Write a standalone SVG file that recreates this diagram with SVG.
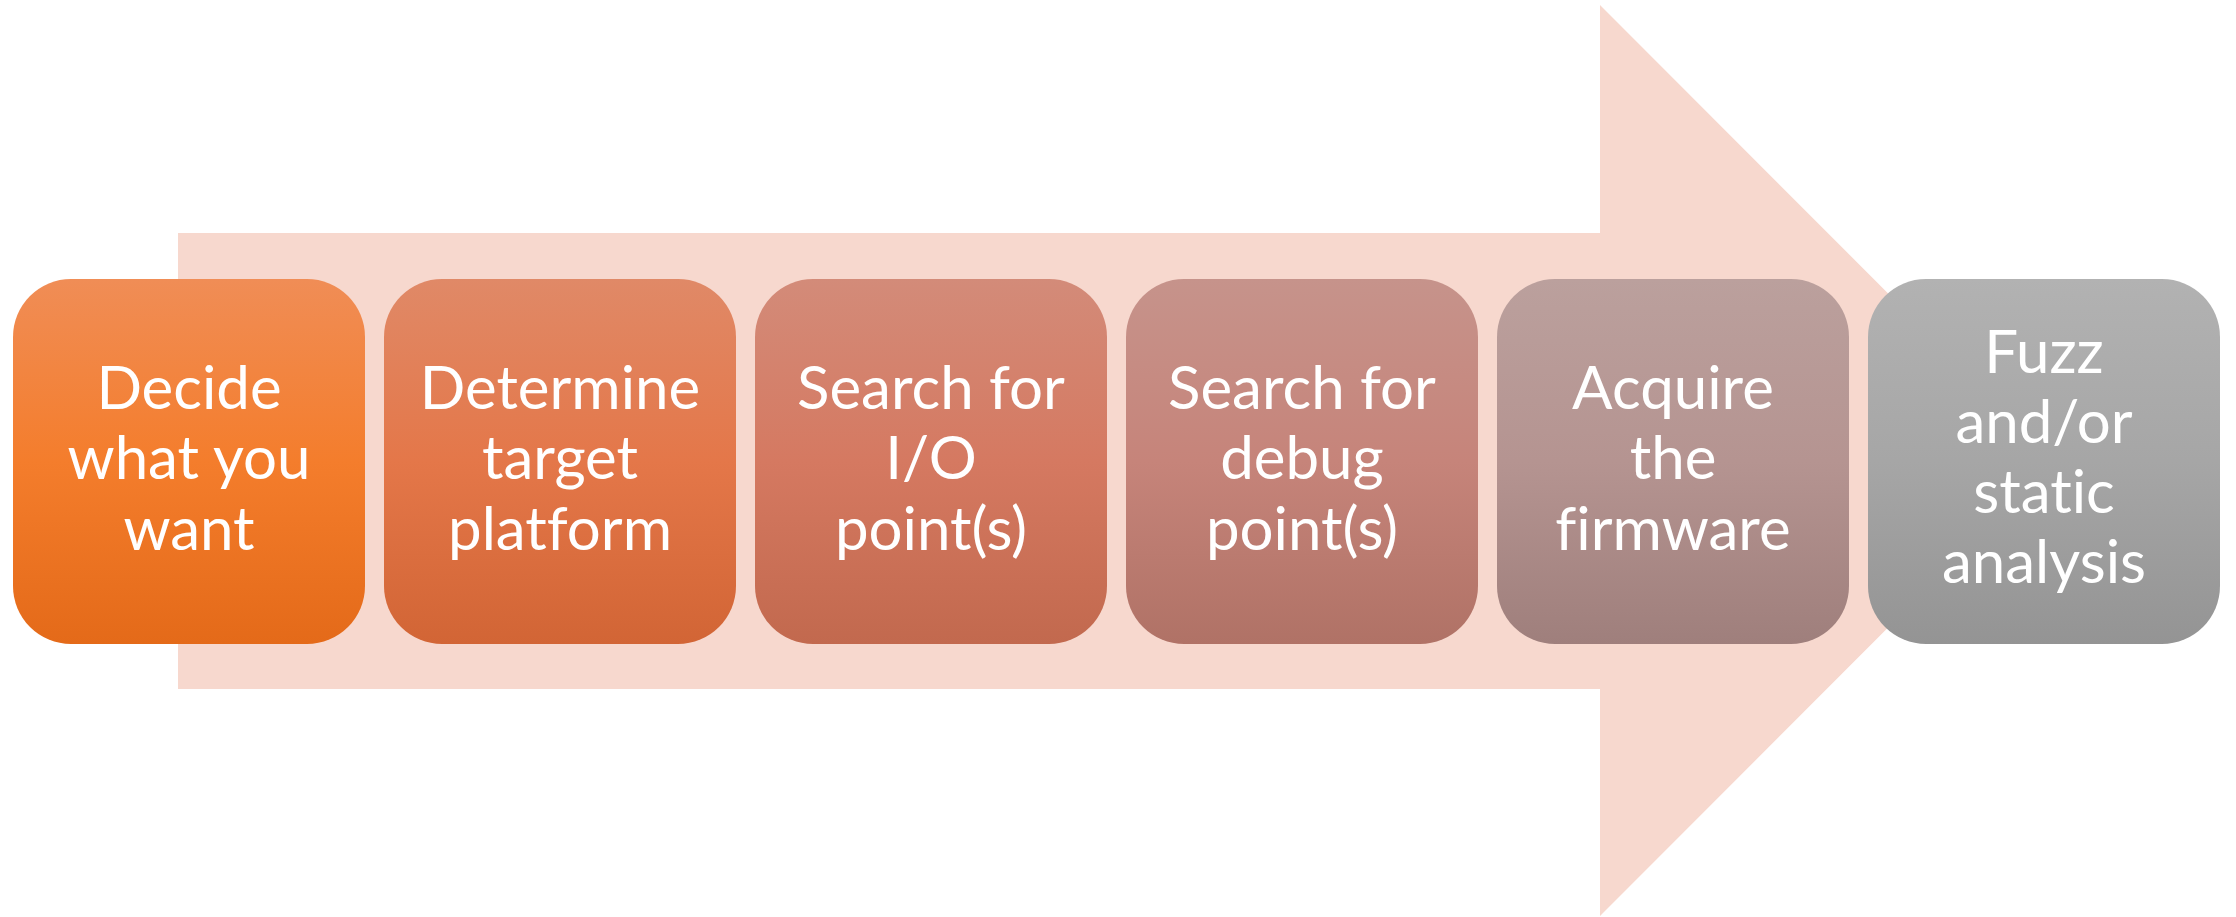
<svg xmlns="http://www.w3.org/2000/svg" width="2236" height="917" viewBox="0 0 2236 917">
<style>
.lbl{font-family:Lato,"Open Sans","Liberation Sans",sans-serif;font-size:60px;fill:#ffffff;text-anchor:middle;font-variant-ligatures:none;font-feature-settings:"liga" 0,"clig" 0}
</style>
<defs>
<linearGradient id="g1" x1="0" y1="0" x2="0" y2="1"><stop offset="0" stop-color="#F08D56"/><stop offset="0.5" stop-color="#F47D2C"/><stop offset="1" stop-color="#E46A19"/></linearGradient>
<linearGradient id="g2" x1="0" y1="0" x2="0" y2="1"><stop offset="0" stop-color="#E08967"/><stop offset="0.5" stop-color="#E47749"/><stop offset="1" stop-color="#D26535"/></linearGradient>
<linearGradient id="g3" x1="0" y1="0" x2="0" y2="1"><stop offset="0" stop-color="#D38B79"/><stop offset="0.5" stop-color="#D57961"/><stop offset="1" stop-color="#C2694E"/></linearGradient>
<linearGradient id="g4" x1="0" y1="0" x2="0" y2="1"><stop offset="0" stop-color="#C6938B"/><stop offset="0.5" stop-color="#C6847A"/><stop offset="1" stop-color="#B07266"/></linearGradient>
<linearGradient id="g5" x1="0" y1="0" x2="0" y2="1"><stop offset="0" stop-color="#BBA09D"/><stop offset="0.5" stop-color="#B59491"/><stop offset="1" stop-color="#9F7F7C"/></linearGradient>
<linearGradient id="g6" x1="0" y1="0" x2="0" y2="1"><stop offset="0" stop-color="#B2B2B2"/><stop offset="0.5" stop-color="#A6A6A6"/><stop offset="1" stop-color="#949494"/></linearGradient>
</defs>
<g id="background-arrow">
<polygon points="178,233 1600,233 1600,5 2055,460.5 1600,916 1600,689 178,689" fill="#F7D8CE"/>
</g>
<g id="connectors"></g>
<g id="node1">
<rect x="13" y="279" width="352" height="365" rx="58" ry="58" fill="url(#g1)"/>
<text class="lbl" x="189" y="409">Decide</text>
<text class="lbl" x="189" y="479">what you</text>
<text class="lbl" x="189" y="550">want</text>
</g>
<g id="node2">
<rect x="384" y="279" width="352" height="365" rx="58" ry="58" fill="url(#g2)"/>
<text class="lbl" x="560" y="409">Determine</text>
<text class="lbl" x="560" y="479">target</text>
<text class="lbl" x="560" y="550">platform</text>
</g>
<g id="node3">
<rect x="755" y="279" width="352" height="365" rx="58" ry="58" fill="url(#g3)"/>
<text class="lbl" x="931" y="409">Search for</text>
<text class="lbl" x="931" y="479">I/O</text>
<text class="lbl" x="931" y="550">point(s)</text>
</g>
<g id="node4">
<rect x="1126" y="279" width="352" height="365" rx="58" ry="58" fill="url(#g4)"/>
<text class="lbl" x="1302" y="409">Search for</text>
<text class="lbl" x="1302" y="479">debug</text>
<text class="lbl" x="1302" y="550">point(s)</text>
</g>
<g id="node5">
<rect x="1497" y="279" width="352" height="365" rx="58" ry="58" fill="url(#g5)"/>
<text class="lbl" x="1673" y="409">Acquire</text>
<text class="lbl" x="1673" y="479">the</text>
<text class="lbl" x="1673" y="550">firmware</text>
</g>
<g id="node6">
<rect x="1868" y="279" width="352" height="365" rx="58" ry="58" fill="url(#g6)"/>
<text class="lbl" x="2044" y="373">Fuzz</text>
<text class="lbl" x="2044" y="443">and/or</text>
<text class="lbl" x="2044" y="513">static</text>
<text class="lbl" x="2044" y="583">analysis</text>
</g>
</svg>
